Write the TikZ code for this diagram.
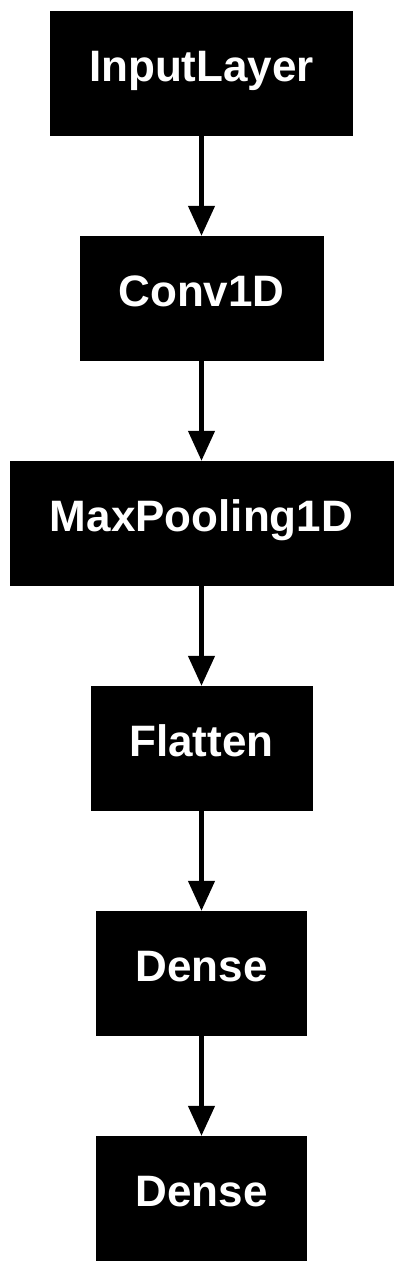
\documentclass[tikz,border=0pt]{standalone}
\usepackage{fontspec}
\setmainfont{Liberation Sans}
\usetikzlibrary{arrows.meta}
\begin{document}
\begin{tikzpicture}[x=1pt,y=-1pt,
  layer/.style={fill=black, draw=none, text=white, font=\fontsize{44pt}{48pt}\selectfont\bfseries,
    minimum height=125pt, inner sep=0pt, text height=24pt, text depth=7.6pt},
  flow/.style={line width=4.5pt, -{Triangle[length=30pt,width=26pt]}}]
\useasboundingbox (0,0) rectangle (403,1272);
\node[layer, minimum width=303pt] (n1) at (201.5,73.5) {InputLayer};
\node[layer, minimum width=244pt] (n2) at (201.5,298.5) {Conv1D};
\node[layer, minimum width=384pt] (n3) at (201.5,523.5) {MaxPooling1D};
\node[layer, minimum width=222pt] (n4) at (201.5,748.5) {Flatten};
\node[layer, minimum width=211pt] (n5) at (201.5,973.5) {Dense};
\node[layer, minimum width=211pt] (n6) at (201.5,1198.5) {Dense};
\draw[flow] (n1) -- (n2);
\draw[flow] (n2) -- (n3);
\draw[flow] (n3) -- (n4);
\draw[flow] (n4) -- (n5);
\draw[flow] (n5) -- (n6);
\end{tikzpicture}
\end{document}
